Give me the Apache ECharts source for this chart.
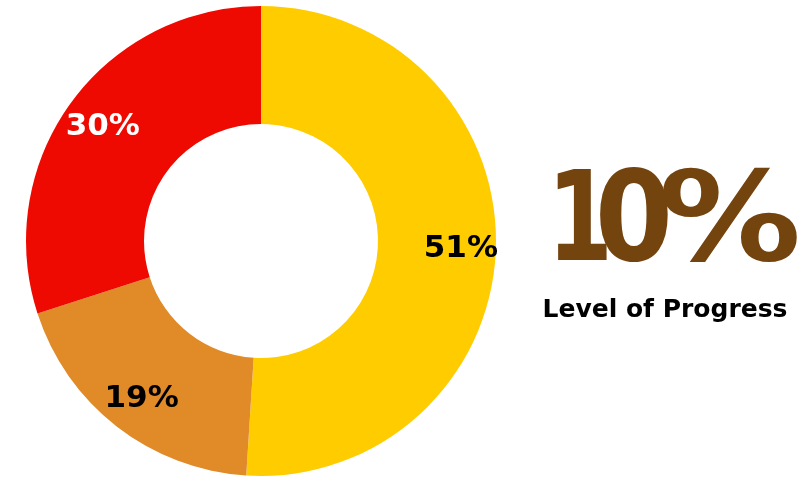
<!DOCTYPE html>
<html>
<head>
<meta charset="utf-8">
<script src="https://cdn.jsdelivr.net/npm/echarts@6/dist/echarts.min.js"></script>
<style>
  html, body { margin: 0; padding: 0; background: #fff; }
  #chart { width: 802px; height: 478px; }
</style>
</head>
<body>
<div id="chart"></div>
<script>
// slice data, clockwise from 12 o'clock
const categories = ["A", "B", "C"];
const values = [51, 19, 30];
const sliceColors = ["#FFCC00", "#E08A28", "#EE0A00"];
const labelColors = ["#000000", "#000000", "#ffffff"];
const progressValue = "10%";
const progressLabel = "Level of Progress";

const chart = echarts.init(document.getElementById("chart"));

const pieData = categories.map((c, i) => ({
  name: c,
  value: values[i],
  itemStyle: { color: sliceColors[i] },
  label: { color: labelColors[i] }
}));

// big number is drawn char by char so the glyphs sit tight like the original
const bigChars = progressValue.split("");
const bigCharX = [580, 634, 730];
const bigCharScale = [0.76, 0.9, 1.14];
const bigGraphics = bigChars.map((ch, i) => ({
  type: "text",
  x: bigCharX[i],
  y: 228,
  scaleX: bigCharScale[i],
  style: {
    text: ch,
    x: 0,
    y: 0,
    fill: "#74440F",
    font: "bold 125px 'DejaVu Sans'",
    textAlign: "center",
    textVerticalAlign: "middle"
  }
}));

chart.setOption({
  animation: false,
  series: [
    {
      type: "pie",
      center: [261, 241],
      radius: [117, 235],
      startAngle: 90,
      clockwise: true,
      silent: true,
      label: { show: false },
      labelLine: { show: false },
      data: pieData
    },
    {
      // transparent ring used only to place the labels a bit further out
      type: "pie",
      center: [263, 243],
      radius: [155, 235],
      startAngle: 90,
      clockwise: true,
      silent: true,
      itemStyle: { color: "rgba(0,0,0,0)" },
      label: {
        show: true,
        position: "inside",
        formatter: "{c}%",
        fontFamily: "DejaVu Sans",
        fontWeight: "bold",
        fontSize: 31
      },
      labelLine: { show: false },
      data: pieData.map(d => ({
        name: d.name,
        value: d.value,
        itemStyle: { color: "rgba(0,0,0,0)" },
        label: d.label
      }))
    }
  ],
  graphic: bigGraphics.concat([
    {
      type: "text",
      x: 665,
      y: 310,
      style: {
        text: progressLabel,
        x: 0,
        y: 0,
        fill: "#000000",
        font: "bold 25px 'DejaVu Sans'",
        textAlign: "center",
        textVerticalAlign: "middle"
      }
    }
  ])
});
</script>
</body>
</html>
